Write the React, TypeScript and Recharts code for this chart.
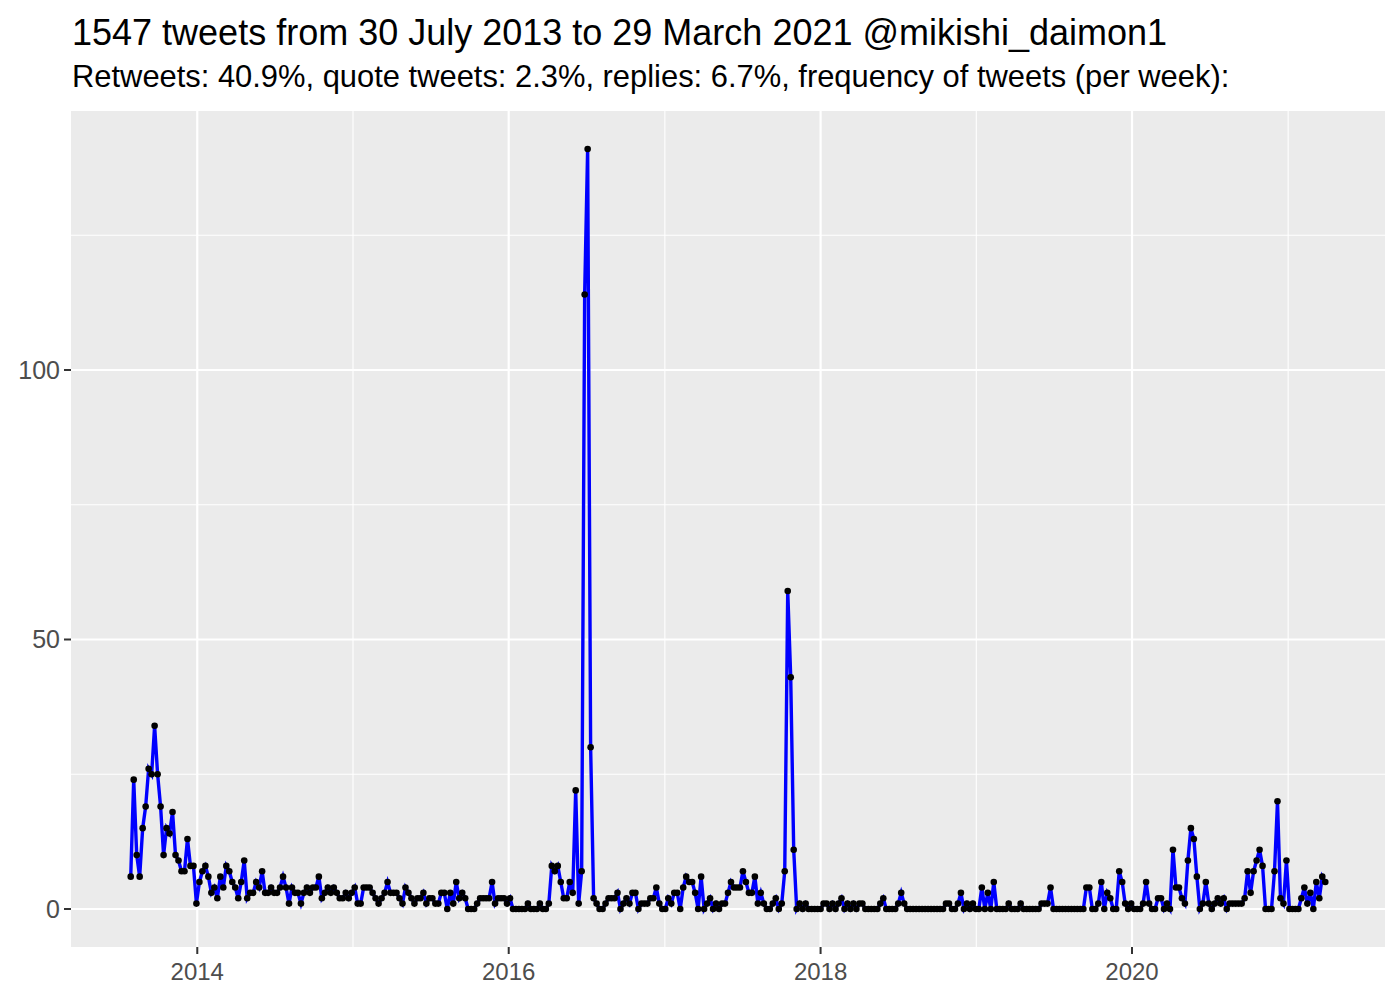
import { CartesianGrid, Line, LineChart, XAxis, YAxis } from "recharts";

// weekly tweet counts, one array per calendar year (weeks start Monday 29 July 2013)
const START = Date.UTC(2013, 6, 29);
const WEEK = 7 * 24 * 3600 * 1000;

const weeks2013 = [6, 24, 10, 6, 15, 19, 26, 25, 34, 25, 19, 10, 15, 14, 18, 10, 9, 7, 7, 13, 8, 8, 1];
const weeks2014 = [
  5, 7, 8, 6, 3, 4, 2, 6, 4, 8, 7, 5, 4, 2,
  5, 9, 2, 3, 3, 5, 4, 7, 3, 3, 4, 3, 3, 4, 6, 4, 1, 4, 3, 3,
  1, 3, 4, 3, 4, 4, 6, 2, 3, 4, 3, 4, 3, 2, 2, 3, 2, 3,
];
const weeks2015 = [
  4, 1, 1, 4, 4, 4, 3, 2, 1, 2, 3, 5, 3, 3, 3, 2, 1, 4, 3, 2,
  1, 2, 2, 3, 1, 2, 2, 1, 1, 3, 3, 0, 3, 1, 5, 2, 3, 2, 0, 0,
  0, 1, 2, 2, 2, 2, 5, 1, 2, 2, 2, 1,
];
const weeks2016 = [
  2, 0, 0, 0, 0, 0, 1, 0, 0, 0, 1, 0, 0, 1, 8, 7, 8, 5, 2, 2,
  5, 3, 22, 1, 7, 114, 141, 30, 2, 1, 0, 0, 1, 2, 2, 2, 3, 0, 1, 2,
  1, 3, 3, 0, 1, 1, 1, 2, 2, 4, 1, 0,
];
const weeks2017 = [
  0, 2, 1, 3, 3, 0, 4, 6, 5, 5, 3, 0, 6, 0, 1, 2, 0, 1, 0, 1,
  1, 3, 5, 4, 4, 4, 7, 5, 3, 3, 6, 1, 3, 1, 0, 0, 1, 2, 0, 1,
  7, 59, 43, 11, 0, 1, 0, 1, 0, 0, 0, 0,
];
const weeks2018 = [
  0, 1, 1, 0, 1, 0, 1, 2, 0, 1, 0, 1, 0, 1, 1, 0, 0, 0, 0, 0,
  1, 2, 0, 0, 0, 0, 1, 3, 1, 0, 0, 0, 0, 0, 0, 0, 0, 0, 0, 0,
  0, 0, 1, 1, 0, 0, 1, 3, 0, 1, 0, 1, 0,
];
const weeks2019 = [
  0, 4, 0, 3, 0, 5, 0, 0, 0, 0, 1, 0, 0, 0, 1, 0, 0, 0, 0, 0,
  0, 1, 1, 1, 4, 0, 0, 0, 0, 0, 0, 0, 0, 0, 0, 0, 4, 4, 0, 0,
  1, 5, 0, 3, 2, 0, 0, 7, 5, 1, 0, 1,
];
const weeks2020 = [
  0, 0, 0, 1, 5, 1, 0, 0, 2, 2, 0, 1, 0, 11, 4, 4, 2, 1, 9, 15,
  13, 6, 0, 1, 5, 1, 0, 1, 2, 1, 2, 0, 1, 1, 1, 1, 1, 2, 7, 3,
  7, 9, 11, 8, 0, 0, 0, 7, 20, 2, 1, 9,
];
const weeks2021 = [0, 0, 0, 0, 2, 4, 1, 3, 0, 5, 2, 6, 5];

const counts = [
  ...weeks2013, ...weeks2014, ...weeks2015, ...weeks2016, ...weeks2017,
  ...weeks2018, ...weeks2019, ...weeks2020, ...weeks2021,
];
const data = counts.map((n, i) => ({ t: START + i * WEEK, n }));

const majorYears = [2014, 2016, 2018, 2020];
const minorYears = [2015, 2017, 2019, 2021];
const yMajor = [0, 50, 100];
const yMinor = [25, 75, 125];

const TITLE = "1547 tweets from 30 July 2013 to 29 March 2021 @mikishi_daimon1";
const SUBTITLE = "Retweets: 40.9%, quote tweets: 2.3%, replies: 6.7%, frequency of tweets (per week):";

// ggplot-style 5% expansion on both axes
const span = (counts.length - 1) * WEEK;
const xDomain = [START - span * 0.05, START + span * 1.05];
const yMax = Math.max(...counts);
const yDomain = [-yMax * 0.05, yMax * 1.05];

const FONT = "'Liberation Sans', Arial, Helvetica, sans-serif";
const tickStyle = { fontSize: 24, fill: "#4D4D4D", fontFamily: FONT };

export default function App() {
  return (
    <div style={{ position: "absolute", left: 0, top: 0, width: 1400, height: 1000, background: "#fff" }}>
      <svg width={1400} height={110} style={{ position: "absolute", left: 0, top: 0 }}>
        <text x={72} y={45} fontSize={36} fontFamily={FONT} fill="#000">{TITLE}</text>
        <text x={72} y={87} fontSize={30.9} fontFamily={FONT} fill="#000">{SUBTITLE}</text>
      </svg>
      <div style={{ position: "absolute", left: 0, top: 0 }}>
        <LineChart width={1400} height={1000} data={data} margin={{ top: 111, right: 15, bottom: 0, left: 0 }}>
          <CartesianGrid
            fill="#EBEBEB"
            fillOpacity={1}
            stroke="#FFFFFF"
            strokeWidth={1.1}
            horizontalValues={yMinor}
            verticalValues={minorYears.map((y) => Date.UTC(y, 0, 1))}
          />
          <CartesianGrid
            stroke="#FFFFFF"
            strokeWidth={2.2}
            horizontalValues={yMajor}
            verticalValues={majorYears.map((y) => Date.UTC(y, 0, 1))}
          />
          <XAxis
            dataKey="t"
            type="number"
            domain={xDomain}
            allowDataOverflow
            ticks={majorYears.map((y) => Date.UTC(y, 0, 1))}
            tickFormatter={(v: number) => String(new Date(v).getUTCFullYear())}
            axisLine={false}
            tickLine={{ stroke: "#333333", strokeWidth: 2 }}
            tickSize={7}
            tickMargin={9}
            height={53}
            tick={tickStyle}
          />
          <YAxis
            type="number"
            domain={yDomain}
            allowDataOverflow
            ticks={yMajor}
            axisLine={false}
            tickLine={{ stroke: "#333333", strokeWidth: 2 }}
            tickSize={7}
            tickMargin={4}
            width={71}
            tick={{ ...tickStyle, fontSize: 25 }}
          />
          <Line
            dataKey="n"
            type="linear"
            stroke="none"
            dot={{ r: 3.3, fill: "#000000", stroke: "none" }}
            activeDot={false}
            isAnimationActive={false}
          />
          <Line
            dataKey="n"
            type="linear"
            stroke="#0000FF"
            strokeWidth={3.4}
            dot={false}
            activeDot={false}
            isAnimationActive={false}
          />
        </LineChart>
      </div>
    </div>
  );
}
